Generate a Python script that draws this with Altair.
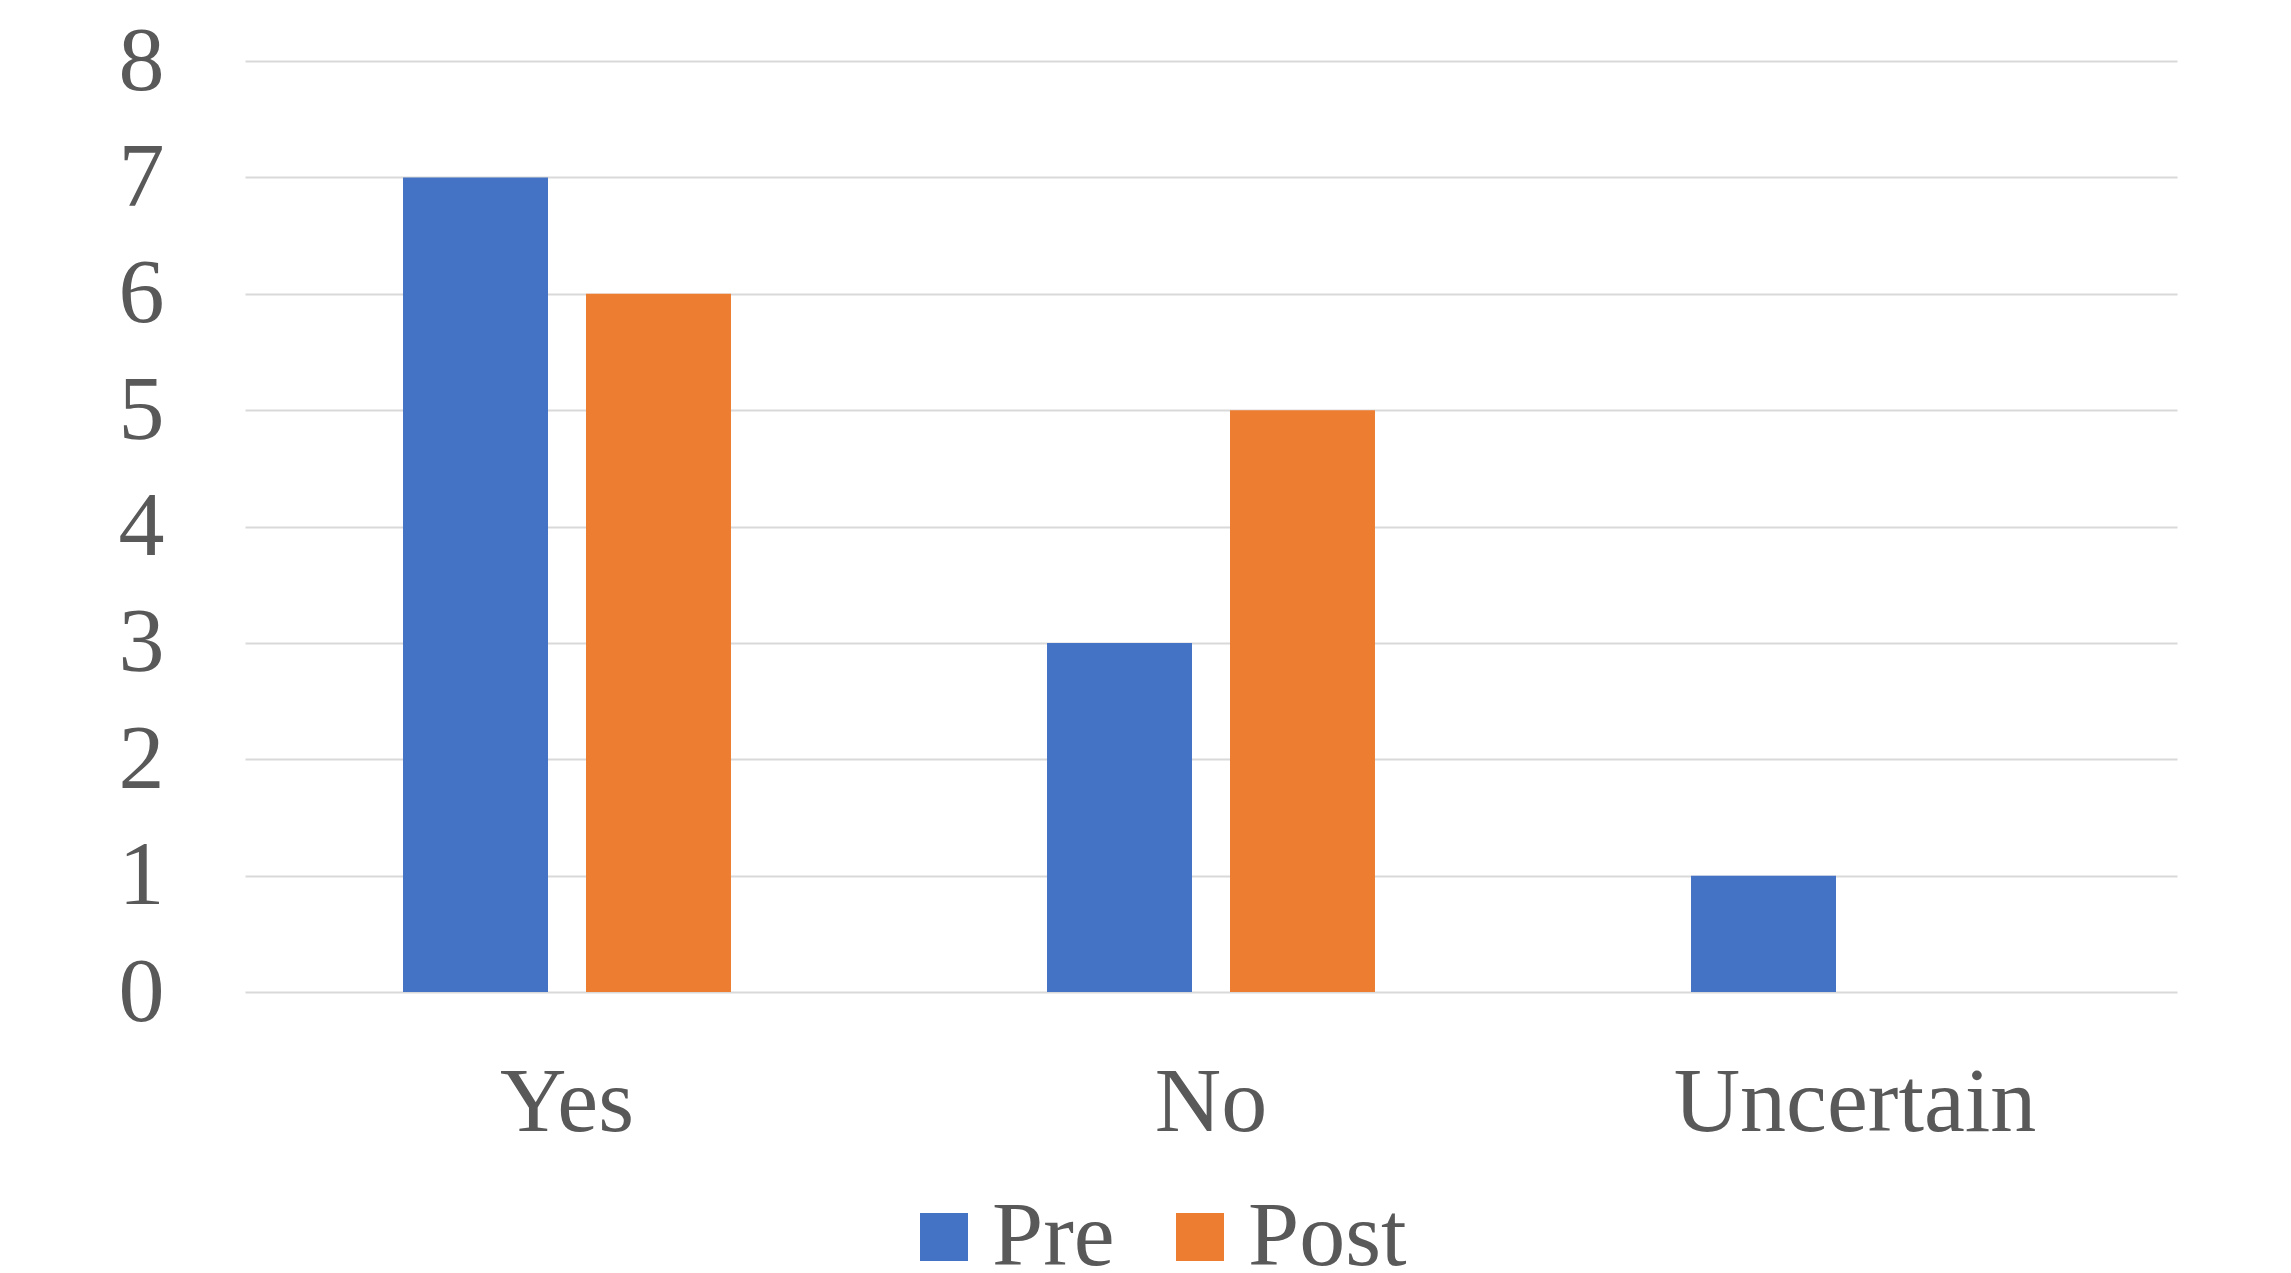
import altair as alt
import pandas as pd

categories = ["Yes", "No", "Uncertain"]
series = ["Pre", "Post"]
pre_values = [7, 3, 1]
post_values = [6, 5, 0]
y_ticks = [0, 1, 2, 3, 4, 5, 6, 7, 8]
colors = ["#4472C4", "#ED7D31"]

rows = []
for c, v in zip(categories, pre_values):
    rows.append({"category": c, "series": "Pre", "value": v})
for c, v in zip(categories, post_values):
    rows.append({"category": c, "series": "Post", "value": v})
df = pd.DataFrame(rows)

FONT = "Liberation Serif"
TXT = "#595959"

chart = alt.Chart(df).mark_bar().encode(
    x=alt.X("category:N", sort=categories, title=None,
            scale=alt.Scale(paddingInner=0, paddingOuter=0),
            axis=alt.Axis(labelAngle=0, domain=False, ticks=False, tickSize=0,
                          labelFont=FONT, labelFontSize=92, labelColor=TXT,
                          labelLimit=0,
                          labelBaseline="alphabetic", labelPadding=138, grid=False)),
    xOffset=alt.XOffset("series:N", sort=series,
                        scale=alt.Scale(paddingInner=0.2077, paddingOuter=0.8635)),
    y=alt.Y("value:Q", title=None,
            scale=alt.Scale(domain=[0, 8], nice=False),
            axis=alt.Axis(values=y_ticks, domain=False, ticks=False, tickSize=0,
                          labelFont=FONT, labelFontSize=92, labelColor=TXT,
                          labelPadding=81, grid=True, gridColor="#D9D9D9",
                          gridWidth=2, labelBaseline="middle")),
    color=alt.Color("series:N", sort=series, title=None,
                    scale=alt.Scale(domain=series, range=colors),
                    legend=alt.Legend(orient="none", legendX=653, legendY=1130,
                                      direction="horizontal", symbolType="square",
                                      symbolSize=2304, symbolStrokeWidth=0,
                                      labelFont=FONT, labelFontSize=92,
                                      labelColor=TXT, labelOffset=2,
                                      labelLimit=0,
                                      columnPadding=39, padding=0)),
).properties(
    width=1932, height=931,
    background="white",
    autosize=alt.AutoSizeParams(type="none"),
    padding={"left": 245, "top": 61, "right": 114, "bottom": 281},
).configure_view(stroke=None, strokeWidth=0)

chart.save("out.html", embed_options={"renderer": "svg", "actions": False})
